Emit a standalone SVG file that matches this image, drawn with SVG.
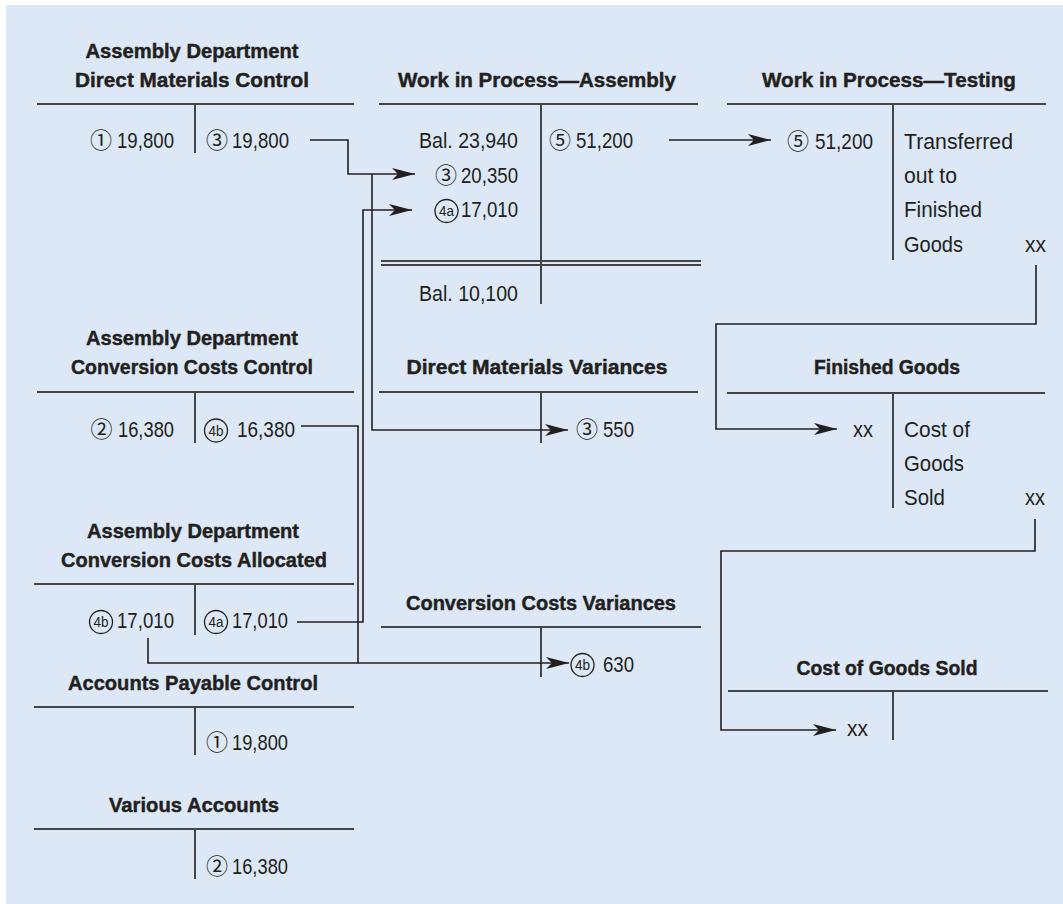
<svg xmlns="http://www.w3.org/2000/svg" width="1063" height="904" viewBox="0 0 1063 904">
<style>
.t{font-family:"Liberation Sans","Arial",sans-serif;font-weight:bold;font-size:21px;fill:#231f20;stroke:#231f20;stroke-width:0.45;text-anchor:middle}
.e{font-family:"Liberation Sans","Arial",sans-serif;font-size:22px;fill:#231f20}
.s{text-anchor:start}
.n{text-anchor:end}
.c{font-family:"Noto Sans CJK JP","Noto Sans CJK SC","DejaVu Sans",sans-serif;font-size:22px;fill:#231f20;text-anchor:middle}
.ct{font-family:"Liberation Sans","Arial",sans-serif;font-size:14px;fill:#231f20;text-anchor:middle}
.ring{fill:none;stroke:#231f20;stroke-width:1.3}
.tl{stroke:#454545;stroke-width:2;fill:none}
.cn{stroke:#231f20;stroke-width:1.6;fill:none}
</style>
<defs>
<marker id="ah" markerUnits="userSpaceOnUse" viewBox="0 -6 24 12" refX="23" refY="0" markerWidth="24" markerHeight="12" orient="auto">
<path d="M0,-6 L23,0 L0,6 L6,0 Z" fill="#231f20"/>
</marker>
</defs>
<rect x="6" y="5" width="1057" height="899" fill="#dce8f5"/>

<g id="dm-control">
<text class="t" x="192" y="58" textLength="213" lengthAdjust="spacingAndGlyphs">Assembly Department</text>
<text class="t" x="192" y="87" textLength="234" lengthAdjust="spacingAndGlyphs">Direct Materials Control</text>
<path class="tl" d="M37,104 H354 M195,104 V153"/>
<text class="c" x="101" y="148">①</text>
<text class="e n" x="174" y="148" textLength="57" lengthAdjust="spacingAndGlyphs">19,800</text>
<text class="c" x="217" y="148">③</text>
<text class="e s" x="232" y="148" textLength="57" lengthAdjust="spacingAndGlyphs">19,800</text>
</g>

<g id="wip-assembly">
<text class="t" x="537" y="87" textLength="278" lengthAdjust="spacingAndGlyphs">Work in Process—Assembly</text>
<path class="tl" d="M379,104 H698 M541,104 V304 M381,261 H701 M381,265 H701"/>
<text class="e n" x="518" y="148" textLength="99" lengthAdjust="spacingAndGlyphs">Bal. 23,940</text>
<text class="c" x="446" y="183">③</text>
<text class="e n" x="518" y="183" textLength="57" lengthAdjust="spacingAndGlyphs">20,350</text>
<circle class="ring" cx="446.5" cy="211" r="11.5"/>
<text class="ct" x="446.5" y="216" textLength="15" lengthAdjust="spacingAndGlyphs">4a</text>
<text class="e n" x="518" y="217" textLength="57" lengthAdjust="spacingAndGlyphs">17,010</text>
<text class="e n" x="518" y="301" textLength="99" lengthAdjust="spacingAndGlyphs">Bal. 10,100</text>
<text class="c" x="560" y="148">⑤</text>
<text class="e s" x="576" y="148" textLength="57" lengthAdjust="spacingAndGlyphs">51,200</text>
</g>

<g id="wip-testing">
<text class="t" x="889" y="87" textLength="254" lengthAdjust="spacingAndGlyphs">Work in Process—Testing</text>
<path class="tl" d="M727,104 H1046 M893,104 V260"/>
<text class="c" x="798" y="149">⑤</text>
<text class="e n" x="873" y="149" textLength="58" lengthAdjust="spacingAndGlyphs">51,200</text>
<text class="e s" x="904" y="149" textLength="109" lengthAdjust="spacingAndGlyphs">Transferred</text>
<text class="e s" x="904" y="183" textLength="53" lengthAdjust="spacingAndGlyphs">out to</text>
<text class="e s" x="904" y="217" textLength="78" lengthAdjust="spacingAndGlyphs">Finished</text>
<text class="e s" x="904" y="252" textLength="59" lengthAdjust="spacingAndGlyphs">Goods</text>
<text class="e n" x="1046" y="252" textLength="21" lengthAdjust="spacingAndGlyphs">xx</text>
</g>

<g id="cc-control">
<text class="t" x="192" y="345" textLength="212" lengthAdjust="spacingAndGlyphs">Assembly Department</text>
<text class="t" x="192" y="374" textLength="242" lengthAdjust="spacingAndGlyphs">Conversion Costs Control</text>
<path class="tl" d="M37,392 H354 M195,392 V443"/>
<text class="c" x="101.5" y="437">②</text>
<text class="e n" x="174" y="437" textLength="56" lengthAdjust="spacingAndGlyphs">16,380</text>
<circle class="ring" cx="216" cy="430.5" r="11.5"/>
<text class="ct" x="216" y="435.5" textLength="15" lengthAdjust="spacingAndGlyphs">4b</text>
<text class="e s" x="237" y="437" textLength="58" lengthAdjust="spacingAndGlyphs">16,380</text>
</g>

<g id="dm-variances">
<text class="t" x="537" y="374" textLength="261" lengthAdjust="spacingAndGlyphs">Direct Materials Variances</text>
<path class="tl" d="M379,392 H698 M541,392 V443"/>
<text class="c" x="587" y="437">③</text>
<text class="e s" x="603" y="437" textLength="31" lengthAdjust="spacingAndGlyphs">550</text>
</g>

<g id="finished-goods">
<text class="t" x="887" y="374" textLength="146" lengthAdjust="spacingAndGlyphs">Finished Goods</text>
<path class="tl" d="M727,393 H1045 M893,393 V508"/>
<text class="e n" x="873" y="437" textLength="20" lengthAdjust="spacingAndGlyphs">xx</text>
<text class="e s" x="904" y="437" textLength="66" lengthAdjust="spacingAndGlyphs">Cost of</text>
<text class="e s" x="904" y="471" textLength="60" lengthAdjust="spacingAndGlyphs">Goods</text>
<text class="e s" x="904" y="505" textLength="41" lengthAdjust="spacingAndGlyphs">Sold</text>
<text class="e n" x="1045" y="505" textLength="20" lengthAdjust="spacingAndGlyphs">xx</text>
</g>

<g id="cc-allocated">
<text class="t" x="193" y="538" textLength="212" lengthAdjust="spacingAndGlyphs">Assembly Department</text>
<text class="t" x="194" y="567" textLength="266" lengthAdjust="spacingAndGlyphs">Conversion Costs Allocated</text>
<path class="tl" d="M34,584 H354 M195,584 V635"/>
<circle class="ring" cx="101" cy="622" r="11.5"/>
<text class="ct" x="101" y="627" textLength="15" lengthAdjust="spacingAndGlyphs">4b</text>
<text class="e n" x="174" y="628" textLength="57" lengthAdjust="spacingAndGlyphs">17,010</text>
<circle class="ring" cx="216" cy="622" r="11.5"/>
<text class="ct" x="216" y="627" textLength="15" lengthAdjust="spacingAndGlyphs">4a</text>
<text class="e s" x="232" y="628" textLength="56" lengthAdjust="spacingAndGlyphs">17,010</text>
</g>

<g id="cc-variances">
<text class="t" x="541" y="610" textLength="270" lengthAdjust="spacingAndGlyphs">Conversion Costs Variances</text>
<path class="tl" d="M381,627 H701 M541,627 V677"/>
<circle class="ring" cx="582.5" cy="665" r="11.5"/>
<text class="ct" x="582.5" y="670" textLength="15" lengthAdjust="spacingAndGlyphs">4b</text>
<text class="e s" x="603" y="672" textLength="31" lengthAdjust="spacingAndGlyphs">630</text>
</g>

<g id="accounts-payable">
<text class="t" x="193" y="690" textLength="250" lengthAdjust="spacingAndGlyphs">Accounts Payable Control</text>
<path class="tl" d="M34,707 H354 M195,707 V755"/>
<text class="c" x="217" y="750">①</text>
<text class="e s" x="232" y="750" textLength="56" lengthAdjust="spacingAndGlyphs">19,800</text>
</g>

<g id="various-accounts">
<text class="t" x="194" y="812" textLength="170" lengthAdjust="spacingAndGlyphs">Various Accounts</text>
<path class="tl" d="M34,829 H354 M195,829 V879"/>
<text class="c" x="217" y="874">②</text>
<text class="e s" x="232" y="874" textLength="56" lengthAdjust="spacingAndGlyphs">16,380</text>
</g>

<g id="cogs">
<text class="t" x="887" y="675" textLength="181" lengthAdjust="spacingAndGlyphs">Cost of Goods Sold</text>
<path class="tl" d="M728,691 H1048 M893,691 V740"/>
<text class="e n" x="868" y="736" textLength="21" lengthAdjust="spacingAndGlyphs">xx</text>
</g>

<g id="connectors">
<path class="cn" d="M310,140 H348 V174 H415" marker-end="url(#ah)"/>
<path class="cn" d="M372,174 V430 H568" marker-end="url(#ah)"/>
<path class="cn" d="M297,622 H363 V210 H412" marker-end="url(#ah)"/>
<path class="cn" d="M301,426 H358 V663"/>
<path class="cn" d="M148,638 V663 H569" marker-end="url(#ah)"/>
<path class="cn" d="M669,140 H771" marker-end="url(#ah)"/>
<path class="cn" d="M1036,265 V324 H716 V429 H837" marker-end="url(#ah)"/>
<path class="cn" d="M1035,519 V551 H721 V730 H836" marker-end="url(#ah)"/>
</g>
</svg>
